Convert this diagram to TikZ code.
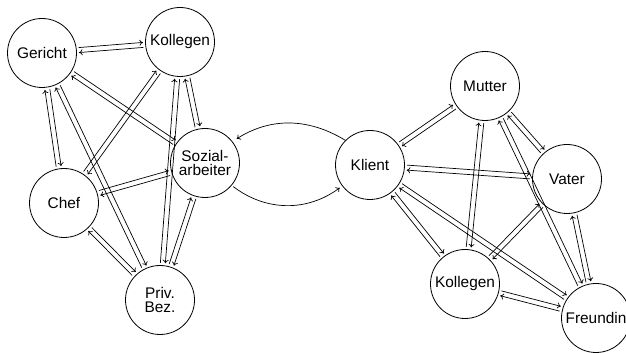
\documentclass[tikz,border=0pt]{standalone}
\usepackage{fontspec}
\setmainfont{Liberation Sans}
\usetikzlibrary{calc,arrows.meta}
\newcommand{\pairoff}{2.5pt}
\newcommand{\duo}[2]{%
  \draw[arr] ($(#1.center)!\pairoff!90:(#2.center)$) -- ($(#2.center)!\pairoff!-90:(#1.center)$);
  \draw[arr] ($(#2.center)!\pairoff!90:(#1.center)$) -- ($(#1.center)!\pairoff!-90:(#2.center)$);
}
\begin{document}
\begin{tikzpicture}[x=1pt,y=1pt,
  person/.style={circle, draw, line width=0.8pt, minimum size=69pt, inner sep=0pt, align=center,
    font=\fontsize{15.4}{13.5}\selectfont},
  arr/.style={-{To[length=3.5pt,width=6pt]}, line width=0.7pt, shorten <=37pt, shorten >=37pt},
  curvearr/.style={-{To[length=3.5pt,width=6pt]}, line width=0.7pt}]
\useasboundingbox (0,0) rectangle (626,353);
% left cluster
\node[person] (ger)  at (42,300)  {Gericht};
\node[person] (koll) at (180,311) {Kollegen};
\node[person] (soz)  at (205,190) {Sozial-\\arbeiter};
\node[person] (chef) at (64,150)  {Chef};
\node[person] (priv) at (160,53)  {Priv.\\Bez.};
% right cluster
\node[person] (kli)  at (370,188) {Klient};
\node[person] (mut)  at (485,267) {Mutter};
\node[person] (vat)  at (567,174) {Vater};
\node[person] (kolr) at (465,69)  {Kollegen};
\node[person] (fre)  at (596,35)  {Freundin};
% left pairs
\duo{ger}{koll}
\duo{ger}{soz}
\duo{ger}{chef}
\duo{ger}{priv}
\duo{koll}{soz}
\duo{koll}{chef}
\duo{koll}{priv}
\duo{soz}{chef}
\duo{soz}{priv}
\duo{chef}{priv}
% right pairs
\duo{kli}{mut}
\duo{kli}{vat}
\duo{kli}{kolr}
\duo{kli}{fre}
\duo{mut}{vat}
\duo{mut}{kolr}
\duo{mut}{fre}
\duo{vat}{kolr}
\duo{vat}{fre}
\duo{kolr}{fre}
% curves between Sozialarbeiter and Klient
\draw[curvearr, shorten >=5pt] (kli.135) to[bend right=32] (soz.38);
\draw[curvearr, shorten >=3pt, shorten <=2pt] (soz.-40) to[bend right=37] (kli.217);
\end{tikzpicture}
\end{document}
